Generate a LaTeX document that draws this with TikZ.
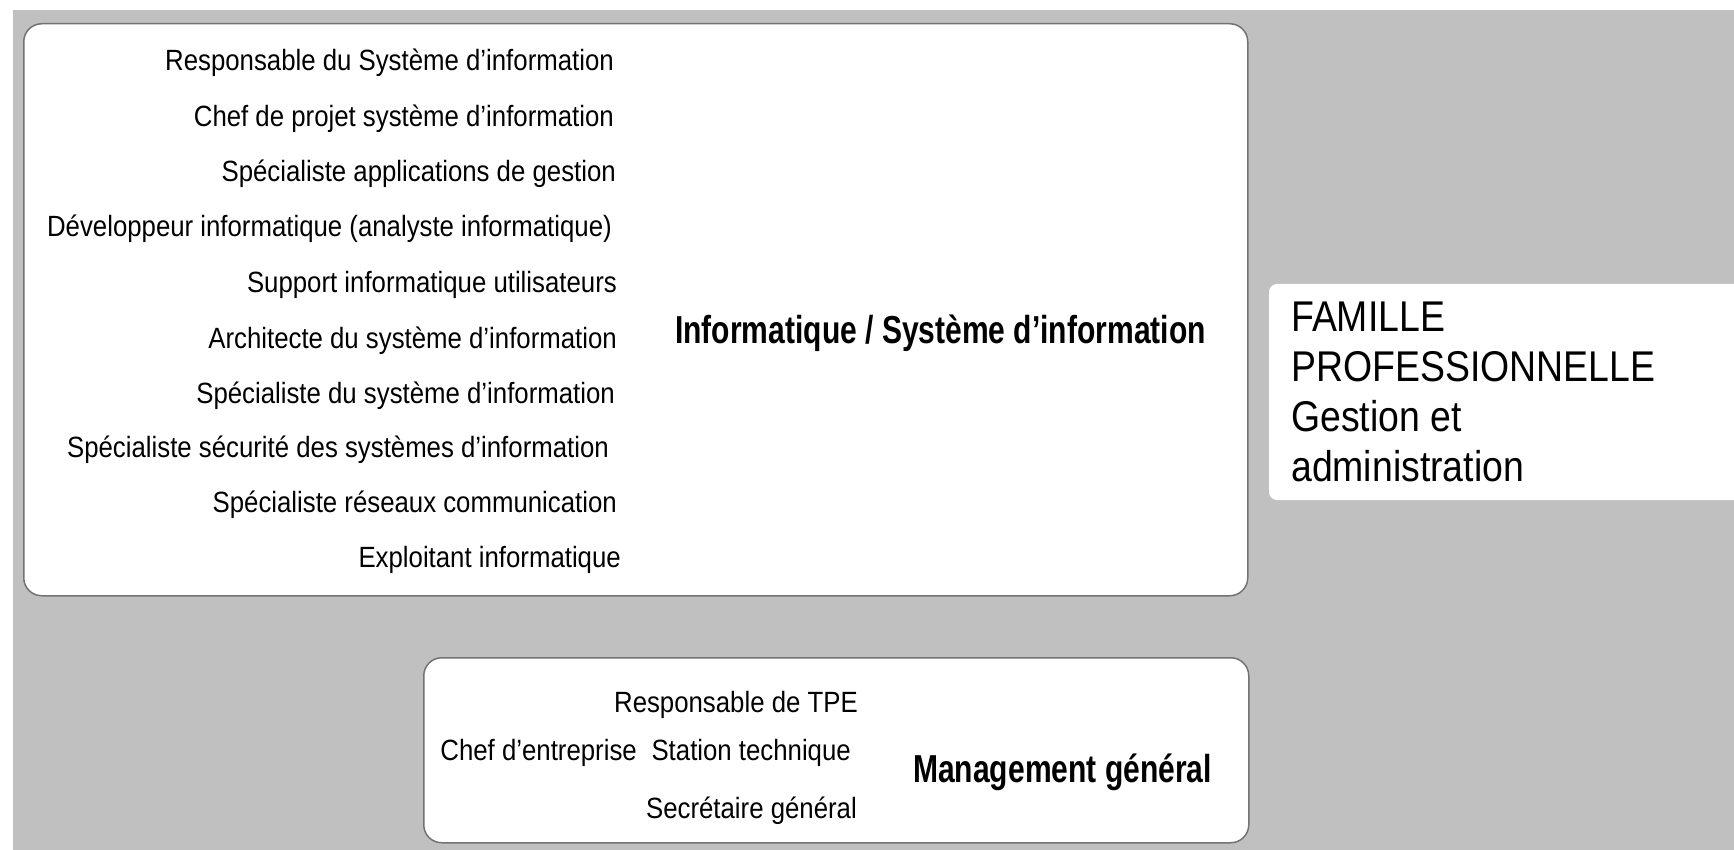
\documentclass[tikz,border=0pt]{standalone}
\usepackage{fontspec}
\setmainfont{Liberation Sans}[FakeStretch=0.88]
\newfontfamily\famfont{Liberation Sans}[FakeStretch=0.87]
\newfontfamily\boldcond{Liberation Sans}[FakeStretch=0.77]
\definecolor{bggray}{RGB}{192,192,192}
\definecolor{edgegray}{RGB}{115,115,115}
\begin{document}
\begin{tikzpicture}[x=1pt,y=-1pt,
  panel/.style={draw=edgegray, line width=1.5pt, fill=white, rounded corners=18pt, inner sep=0pt, anchor=north west},
  job/.style={anchor=base east, inner sep=0pt, font=\fontsize{29.3}{35}\selectfont},
  title/.style={anchor=base west, inner sep=0pt, font=\boldcond\bfseries\fontsize{39}{45}\selectfont},
  famtext/.style={anchor=north west, inner sep=0pt, align=left, font=\famfont\fontsize{43}{50}\selectfont}
]
\useasboundingbox (0,0) rectangle (1734,850);
\fill[white] (0,0) rectangle (1734,850);
\fill[bggray] (13,10) rectangle (1734,850);

% panels
\node[panel, minimum width=1224pt, minimum height=572pt] (info) at (23,23) {};
\node[panel, minimum width=825pt, minimum height=185pt] (mgmt) at (423,657) {};
\path[fill=white, rounded corners=8pt] (1734,284) -- (1269,284) -- (1269,500) -- (1734,500);

% informatique jobs
\node[job] (j1) at (614,71) {Responsable du Système d’information};
\node[job] (j2) at (614,127) {Chef de projet système d’information};
\node[job] (j3) at (616,182) {Spécialiste applications de gestion};
\node[job] (j4) at (612,237) {Développeur informatique (analyste informatique)};
\node[job] (j5) at (617,292) {Support informatique utilisateurs};
\node[job] (j6) at (617,348) {Architecte du système d’information};
\node[job] (j7) at (615,403) {Spécialiste du système d’information};
\node[job] (j8) at (609,457) {Spécialiste sécurité des systèmes d’information};
\node[job] (j9) at (617,512) {Spécialiste réseaux communication};
\node[job] (j10) at (621,567) {Exploitant informatique};
\node[title] (infotitle) at (675,343) {Informatique / Système d’information};

% management jobs
\node[job] (m1) at (858,712) {Responsable de TPE};
\node[job] (m2) at (637,760) {Chef d’entreprise};
\node[job] (m3) at (851,760) {Station technique};
\node[job] (m4) at (857,818) {Secrétaire général};
\node[title] (mgmttitle) at (913,782) {Management général};

% family
\node[famtext] (famille) at (1291,302) {FAMILLE\\PROFESSIONNELLE\\Gestion et\\administration};
\end{tikzpicture}
\end{document}
